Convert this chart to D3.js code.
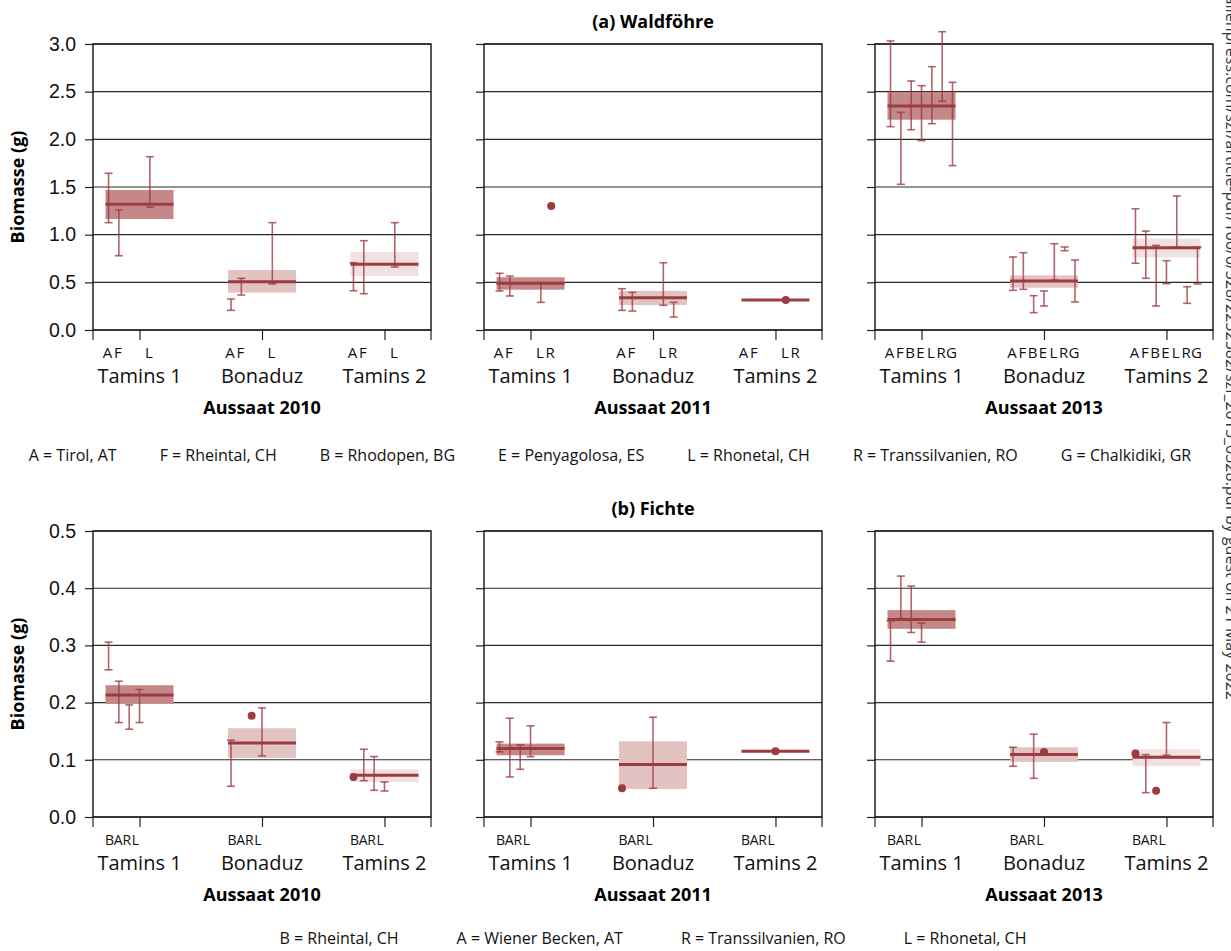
<!DOCTYPE html>
<html>
<head>
<meta charset="utf-8">
<script src="https://cdn.jsdelivr.net/npm/d3@7"></script>
<style>
body { margin: 0; background: #fff; }
svg { font-family: "Open Sans", "Noto Sans", sans-serif; }
</style>
</head>
<body>
<svg id="chart" width="1231" height="951"></svg>
<script>
const sites = ["Tamins 1", "Bonaduz", "Tamins 2"];
const sowings = ["Aussaat 2010", "Aussaat 2011", "Aussaat 2013"];

const pineSlots = ["A", "F", "B", "E", "L", "R", "G"];
const spruceSlots = ["B", "A", "R", "L"];
const pinePops = [["A", "F", "L"], ["A", "F", "L", "R"], ["A", "F", "B", "E", "L", "R", "G"]];
const sprucePops = [spruceSlots, spruceSlots, spruceSlots];

const pineTicks = [0, 0.5, 1, 1.5, 2, 2.5, 3];
const spruceTicks = [0, 0.1, 0.2, 0.3, 0.4, 0.5];

const pineLegend = ["A = Tirol, AT", "F = Rheintal, CH", "B = Rhodopen, BG", "E = Penyagolosa, ES",
  "L = Rhonetal, CH", "R = Transsilvanien, RO", "G = Chalkidiki, GR"];
const spruceLegend = ["B = Rheintal, CH", "A = Wiener Becken, AT", "R = Transsilvanien, RO", "L = Rhonetal, CH"];

// Mittelwert je Standort: [mean, lo, hi]
const pineBox2010 = [[1.318, 1.164, 1.469], [0.507, 0.392, 0.629], [0.689, 0.566, 0.818]];
const pineBox2011 = [[0.49, 0.423, 0.553], [0.339, 0.262, 0.409], [0.315, 0.315, 0.315]];
const pineBox2013 = [[2.35, 2.206, 2.497], [0.514, 0.444, 0.573], [0.863, 0.762, 0.958]];

// Herkunft: [site index, population, lo, hi]
const pineErr2010 = [
  [0, "A", 1.126, 1.644], [0, "F", 0.779, 1.259], [0, "L", 1.287, 1.818],
  [1, "A", 0.206, 0.325], [1, "F", 0.367, 0.542], [1, "L", 0.483, 1.126],
  [2, "A", 0.412, 0.706], [2, "F", 0.381, 0.937], [2, "L", 0.661, 1.126]
];
const pineErr2011 = [
  [0, "A", 0.409, 0.595], [0, "F", 0.357, 0.566], [0, "L", 0.29, 0.49],
  [1, "A", 0.206, 0.433], [1, "F", 0.199, 0.395], [1, "L", 0.259, 0.706], [1, "R", 0.136, 0.29]
];
const pineErr2013 = [
  [0, "A", 2.133, 3.032], [0, "F", 1.528, 2.283], [0, "B", 2.101, 2.612], [0, "E", 1.986, 2.563],
  [0, "L", 2.164, 2.762], [0, "R", 2.399, 3.129], [0, "G", 1.724, 2.598],
  [1, "A", 0.416, 0.766], [1, "F", 0.427, 0.811], [1, "B", 0.182, 0.36], [1, "E", 0.252, 0.409],
  [1, "L", 0.524, 0.905], [1, "R", 0.832, 0.871], [1, "G", 0.294, 0.734],
  [2, "A", 0.70, 1.272], [2, "F", 0.542, 1.038], [2, "B", 0.252, 0.888], [2, "E", 0.486, 0.727],
  [2, "L", 0.868, 1.406], [2, "R", 0.28, 0.454], [2, "G", 0.483, 0.868]
];
// Einzelwerte: [site index, population, value]
const pineDot2010 = [];
const pineDot2011 = [[0, "R", 1.30], [2, "L", 0.315]];
const pineDot2013 = [];

const spruceBox2010 = [[0.2135, 0.1978, 0.2304], [0.1295, 0.1033, 0.1552], [0.0729, 0.0613, 0.0834]];
const spruceBox2011 = [[0.1196, 0.1079, 0.1283], [0.0916, 0.049, 0.1324], [0.1149, 0.1149, 0.1149]];
const spruceBox2013 = [[0.3454, 0.329, 0.3617], [0.1091, 0.0963, 0.1219], [0.1044, 0.0893, 0.1184]];

const spruceErr2010 = [
  [0, "B", 0.2573, 0.3057], [0, "A", 0.1651, 0.2374], [0, "R", 0.1534, 0.196], [0, "L", 0.1651, 0.2229],
  [1, "B", 0.0537, 0.1342], [1, "L", 0.1068, 0.1908],
  [2, "A", 0.0636, 0.1184], [2, "R", 0.0467, 0.1056], [2, "L", 0.0455, 0.0613]
];
const spruceErr2011 = [
  [0, "B", 0.1138, 0.1313], [0, "A", 0.07, 0.1727], [0, "R", 0.0834, 0.126], [0, "L", 0.1056, 0.1593],
  [1, "L", 0.0502, 0.1744]
];
const spruceErr2013 = [
  [0, "B", 0.2724, 0.343], [0, "A", 0.3471, 0.4212], [0, "R", 0.3226, 0.4037], [0, "L", 0.3057, 0.339],
  [1, "B", 0.0887, 0.1219], [1, "R", 0.0677, 0.1447],
  [2, "A", 0.0426, 0.1091], [2, "L", 0.1079, 0.1651]
];
const spruceDot2010 = [[1, "R", 0.1768], [2, "B", 0.07]];
const spruceDot2011 = [[1, "B", 0.0502], [2, "L", 0.1149]];
const spruceDot2013 = [[1, "L", 0.1138], [2, "B", 0.1108], [2, "R", 0.0461]];

const svg = d3.select("#chart");
const markColor = "#9c3b41";
const siteFill = ["#c38887", "#e3c3c2", "#f1e1e0"];
const plotH = 286;
const boxHalf = 34;

const panelX = d3.scaleBand().domain(sowings).range([93, 1213]).paddingInner(0.1355);
const slotX = d3.scaleLinear().domain([0, 6]).range([-31, 31]);

function drawChart(cfg) {
  const g = svg.append("g");
  const y = d3.scaleLinear().domain(cfg.yDomain).range([cfg.top + plotH, cfg.top]);
  const bottom = cfg.top + plotH;
  const w = panelX.bandwidth();

  sowings.forEach((yr, k) => {
    const px = panelX(yr);
    const x = d3.scalePoint().domain(sites).range([px, px + w]).padding(0.38);
    const pg = g.append("g");

    // Gitterlinien
    pg.selectAll("line.grid").data(cfg.ticks).join("line")
      .attr("class", "grid")
      .attr("x1", px).attr("x2", px + w)
      .attr("y1", d => y(d)).attr("y2", d => y(d))
      .attr("stroke", "#2a2a2a").attr("stroke-width", 1.1);

    const ax = pg.append("g")
      .attr("transform", `translate(${px},0)`)
      .call(d3.axisLeft(y).tickValues(cfg.ticks).tickSize(8).tickPadding(9)
        .tickFormat(k === 0 ? d3.format(".1f") : () => ""));
    ax.select(".domain").remove();
    ax.selectAll("line").attr("stroke", "#222").attr("stroke-width", 1.2);
    ax.selectAll("text").attr("font-size", 19.5).attr("fill", "#111");

    const bx = pg.append("g")
      .attr("transform", `translate(0,${bottom})`)
      .call(d3.axisBottom(x).tickSize(10).tickFormat(() => ""));
    bx.select(".domain").remove();
    bx.selectAll("line").attr("stroke", "#222").attr("stroke-width", 1.2);
    pg.selectAll("line.edge").data([px, px + w]).join("line")
      .attr("class", "edge")
      .attr("x1", d => d).attr("x2", d => d)
      .attr("y1", bottom).attr("y2", bottom + 10)
      .attr("stroke", "#222").attr("stroke-width", 1.2);

    pg.append("rect")
      .attr("x", px).attr("y", cfg.top).attr("width", w).attr("height", plotH)
      .attr("fill", "none").attr("stroke", "#111").attr("stroke-width", 1.4);

    // Standort-Mittel
    const boxes = cfg.boxes[k];
    pg.selectAll("rect.box").data(boxes).join("rect")
      .attr("class", "box")
      .attr("x", (d, i) => x(sites[i]) - boxHalf)
      .attr("width", boxHalf * 2)
      .attr("y", d => y(d[2]))
      .attr("height", d => y(d[1]) - y(d[2]))
      .attr("fill", (d, i) => siteFill[i]);

    pg.selectAll("line.mean").data(boxes).join("line")
      .attr("class", "mean")
      .attr("x1", (d, i) => x(sites[i]) - boxHalf)
      .attr("x2", (d, i) => x(sites[i]) + boxHalf)
      .attr("y1", d => y(d[0])).attr("y2", d => y(d[0]))
      .attr("stroke", markColor).attr("stroke-width", 3);

    // Herkünfte
    const cx = d => x(sites[d[0]]) + slotX(cfg.slots.indexOf(d[1]));
    const eb = pg.selectAll("g.err").data(cfg.errs[k]).join("g")
      .attr("class", "err")
      .attr("stroke", markColor).attr("stroke-opacity", 0.78).attr("stroke-width", 1.6);
    eb.append("line")
      .attr("x1", cx).attr("x2", cx)
      .attr("y1", d => y(d[2])).attr("y2", d => y(d[3]));
    eb.append("line")
      .attr("x1", d => cx(d) - 4).attr("x2", d => cx(d) + 4)
      .attr("y1", d => y(d[3])).attr("y2", d => y(d[3]));
    eb.append("line")
      .attr("x1", d => cx(d) - 4).attr("x2", d => cx(d) + 4)
      .attr("y1", d => y(d[2])).attr("y2", d => y(d[2]));

    pg.selectAll("circle.dot").data(cfg.dots[k]).join("circle")
      .attr("class", "dot")
      .attr("cx", cx).attr("cy", d => y(d[2])).attr("r", 4)
      .attr("fill", markColor);

    // Beschriftungen
    sites.forEach(s => {
      pg.selectAll(null).data(cfg.pops[k]).join("text")
        .attr("x", (p, i) => x(s) + cfg.letterX(p, i))
        .attr("y", bottom + 23).attr("dy", "0.35em")
        .attr("text-anchor", "middle").attr("font-size", cfg.letterSize).attr("fill", "#111")
        .text(p => p);
      pg.append("text")
        .attr("x", x(s)).attr("y", bottom + 46).attr("dy", "0.35em")
        .attr("text-anchor", "middle").attr("font-size", 20).attr("fill", "#111")
        .text(s);
    });
    pg.append("text")
      .attr("x", px + w / 2).attr("y", bottom + 78).attr("dy", "0.35em")
      .attr("text-anchor", "middle").attr("font-size", 18).attr("font-weight", "bold")
      .text(yr);
  });

  g.append("text")
    .attr("x", panelX(sowings[1]) + w / 2).attr("y", cfg.top - 22).attr("dy", "0.35em")
    .attr("text-anchor", "middle").attr("font-size", 18).attr("font-weight", "bold")
    .text(cfg.title);

  g.append("text")
    .attr("transform", `translate(18,${cfg.top + plotH / 2}) rotate(-90)`)
    .attr("dy", "0.35em")
    .attr("text-anchor", "middle").attr("font-size", 18).attr("font-weight", "bold")
    .text("Biomasse (g)");

  // Legende
  const lg = g.append("g");
  const items = lg.selectAll("text").data(cfg.legend).join("text")
    .attr("y", bottom + cfg.legendDy).attr("dy", "0.35em")
    .attr("font-size", 16).attr("fill", "#111")
    .text(d => d);
  const widths = items.nodes().map(n => n.getComputedTextLength());
  const total = d3.sum(widths) + cfg.legendGap * (widths.length - 1);
  let pos = cfg.legendCenter - total / 2;
  items.attr("x", (d, i) => {
    const v = pos;
    pos += widths[i] + cfg.legendGap;
    return v;
  });
}

drawChart({
  top: 44, yDomain: [0, 3], ticks: pineTicks, title: "(a) Waldföhre",
  boxes: [pineBox2010, pineBox2011, pineBox2013],
  errs: [pineErr2010, pineErr2011, pineErr2013],
  dots: [pineDot2010, pineDot2011, pineDot2013],
  slots: pineSlots, pops: pinePops,
  letterX: p => slotX(pineSlots.indexOf(p)) - 1, letterSize: 15,
  legend: pineLegend, legendGap: 43, legendCenter: 610, legendDy: 125
});

drawChart({
  top: 531, yDomain: [0, 0.5], ticks: spruceTicks, title: "(b) Fichte",
  boxes: [spruceBox2010, spruceBox2011, spruceBox2013],
  errs: [spruceErr2010, spruceErr2011, spruceErr2013],
  dots: [spruceDot2010, spruceDot2011, spruceDot2013],
  slots: spruceSlots, pops: sprucePops,
  letterX: (p, i) => slotX(0) + 1 + i * 8.6, letterSize: 14,
  legend: spruceLegend, legendGap: 58, legendCenter: 653, legendDy: 121
});

// Randvermerk
svg.append("text")
  .attr("transform", "translate(1226,700) rotate(90)")
  .attr("text-anchor", "end")
  .attr("font-size", 16).attr("fill", "#333")
  .text("Downloaded from http://meridian.allenpress.com/szf/article-pdf/166/6/328/2252582/szf_2015_0328.pdf by guest on 21 May 2022");
</script>
</body>
</html>
